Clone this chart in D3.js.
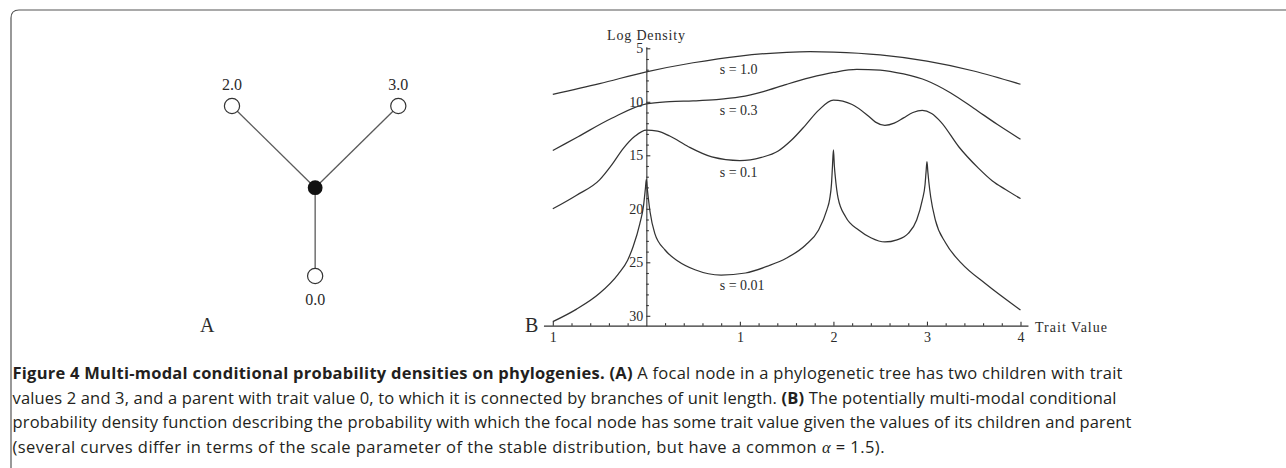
<!DOCTYPE html>
<html>
<head>
<meta charset="utf-8">
<script src="https://cdnjs.cloudflare.com/ajax/libs/d3/7.8.5/d3.min.js"></script>
<style>
html, body { margin: 0; padding: 0; background: #fff; }
svg { display: block; }
text { white-space: pre; }
</style>
</head>
<body>
<svg id="fig" width="1286" height="468"></svg>
<script>
"use strict"

//
// data: panel A (tree with trait values)
//
var treeTraits = ["2.0", "3.0", "0.0"];
var treeNodeX  = [-1, 1, 0];          // layout units
var treeNodeY  = [1, 1, -1.08];

//
// data: panel B (log density curves), [trait value, log density]
//
var seriesNames = ["s = 1.0", "s = 0.3", "s = 0.1", "s = 0.01"];
var curveS100 = [[-1,9.3],[-0.5,8.3],[0,7.2],[0.5,6.35],[1,5.72],[1.5,5.38],[1.75,5.32],[2,5.36],
	[2.5,5.62],[3,6.2],[3.5,7.12],[4,8.36]];
var curveS030 = [[-1,14.55],[-0.73,13.26],[-0.37,11.54],[0,10.2],[0.25,9.99],[0.5,9.92],[0.75,9.8],
	[1,9.55],[1.25,9.05],[1.5,8.37],[1.75,7.75],[2,7.26],[2.25,6.97],[2.5,7.03],[2.75,7.4],[3,8.03],
	[3.25,9.15],[3.5,10.6],[3.75,12.1],[4,13.5]];
var curveS010 = [[-1,20.0],[-0.75,18.75],[-0.5,17.3],[-0.37,15.9],[-0.25,14.4],[-0.12,13.2],[0,12.65],
	[0.12,12.75],[0.25,13.2],[0.45,14.2],[0.7,15.15],[1,15.5],[1.23,15.2],[1.41,14.6],[1.55,13.6],
	[1.7,12.2],[1.84,10.8],[2,9.85],[2.2,10.25],[2.37,11.3],[2.45,11.9],[2.55,12.2],[2.65,12.0],
	[2.75,11.5],[2.85,11.0],[2.95,10.8],[3.05,11.1],[3.15,11.9],[3.34,14.2],[3.55,16.2],[3.7,17.4],
	[3.84,18.2],[4,19.05]];
var curveS001 = [[-1,30.55],[-0.75,29.4],[-0.5,27.9],[-0.3,26.1],[-0.2,24.8],[-0.14,23.5],[-0.07,21.4],
	[-0.03,19.7],[-0.01,18.1],[0,17.25],[0.01,18.1],[0.04,20.3],[0.09,22.3],[0.2,23.85],[0.34,24.9],
	[0.52,25.7],[0.8,26.2],[1.06,26.0],[1.3,25.35],[1.5,24.6],[1.7,23.4],[1.84,22.0],[1.93,20.1],
	[1.96,19.1],[1.98,17.6],[1.99,16.0],[2,14.5],[2.01,16.0],[2.02,17.0],[2.05,19.0],[2.13,20.74],
	[2.27,21.98],[2.4,22.7],[2.55,23.1],[2.68,22.9],[2.8,22.3],[2.89,21.05],[2.95,19.2],[2.98,17.7],
	[2.99,16.6],[3,15.6],[3.01,16.6],[3.02,17.5],[3.04,18.9],[3.09,21.05],[3.2,23.2],[3.37,25.1],
	[3.62,26.96],[4,29.46]];
var curves = [curveS100, curveS030, curveS010, curveS001];
var labelAt = [[0.785, 7.4], [0.785, 11.24], [0.785, 17.03], [0.785, 27.6]];

var xMajorTicks  = [-1, 1, 2, 3, 4];
var xTickLabels  = ["1", "1", "2", "3", "4"];
var yMajorTicks  = [5, 10, 15, 20, 25, 30];
var yTickLabels  = ["5", "10", "15", "20", "25", "30"];
var xExtent = [-1.1, 4.08];
var yExtent = [4.85, 30.92];

//
// caption
//
var captionLines = [
	[["b", "Figure 4 Multi-modal conditional probability densities on phylogenies. (A)"],
	 ["n", " A focal node in a phylogenetic tree has two children with trait"]],
	[["n", "values 2 and 3, and a parent with trait value 0, to which it is connected by branches of unit length. "],
	 ["b", "(B)"], ["n", " The potentially multi-modal conditional"]],
	[["n", "probability density function describing the probability with which the focal node has some trait value given the values of its children and parent"]],
	[["n", "(several curves differ in terms of the scale parameter of the stable distribution, but have a common "],
	 ["i", "\u03b1"], ["n", " = 1.5)."]]
];
var captionWidths = [1110, 1104, 1119, 872];

var serif = "'Liberation Serif', 'DejaVu Serif', serif";
var ink = "#2b2b2b";

var svg = d3.select("#fig");

// frame (top and left edge, rounded corner)
svg.append("path")
	.attr("d", "M11,468 V18 Q11,10 19,10 H1286")
	.attr("fill", "none")
	.attr("stroke", "#555")
	.attr("stroke-width", 1.2)
	;

//
// panel A
//
var tx = d3.scaleLinear().domain([-1, 1]).range([232, 398.3]);
var ty = d3.scaleLinear().domain([0, 1]).range([187.7, 106]);
var gA = svg.append("g");

gA.selectAll("line.branch")
	.data(treeNodeX)
	.enter().append("line")
	.attr("class", "branch")
	.attr("x1", tx(0)).attr("y1", ty(0))
	.attr("x2", function(d) { return tx(d); })
	.attr("y2", function(d, i) { return ty(treeNodeY[i]); })
	.attr("stroke", "#5a5a5a")
	.attr("stroke-width", 1.3)
	;
gA.selectAll("circle.leaf")
	.data(treeNodeX)
	.enter().append("circle")
	.attr("class", "leaf")
	.attr("cx", function(d) { return tx(d); })
	.attr("cy", function(d, i) { return ty(treeNodeY[i]); })
	.attr("r", 7.6)
	.attr("fill", "#fff")
	.attr("stroke", "#333")
	.attr("stroke-width", 1.2)
	;
gA.append("circle")
	.attr("cx", tx(0)).attr("cy", ty(0))
	.attr("r", 7.4)
	.attr("fill", "#111")
	;
gA.selectAll("text.trait")
	.data(treeTraits)
	.enter().append("text")
	.attr("class", "trait")
	.attr("x", function(d, i) { return tx(treeNodeX[i]); })
	.attr("y", function(d, i) { return treeNodeY[i] > 0 ? ty(treeNodeY[i]) - 16 : ty(treeNodeY[i]) + 29; })
	.attr("text-anchor", "middle")
	.attr("font-family", serif)
	.attr("font-size", 16)
	.attr("fill", ink)
	.text(function(d) { return d; })
	;
svg.append("text")
	.attr("x", 200).attr("y", 332)
	.attr("font-family", serif).attr("font-size", 20).attr("fill", ink)
	.text("A");
svg.append("text")
	.attr("x", 525).attr("y", 332)
	.attr("font-family", serif).attr("font-size", 20).attr("fill", ink)
	.text("B");

//
// panel B
//
var x = d3.scaleLinear().domain([-1, 4]).range([552.8, 1020.5]);
var y = d3.scaleLinear().domain([5, 30]).range([48.3, 315.8]);
var xAxisScale = x.copy().domain(xExtent).range(xExtent.map(x));
var yAxisScale = y.copy().domain(yExtent).range(yExtent.map(y));

var gB = svg.append("g");

var xMinor = d3.range(-1, 4.001, 0.2).map(function(v) { return Math.round(v * 10) / 10; })
	.filter(function(v) { return Math.abs(v - Math.round(v)) > 1e-6; });
var yMinor = d3.range(5, 31, 1).filter(function(v) { return v % 5 != 0; });

var gx = gB.append("g")
	.attr("transform", "translate(0," + y(yExtent[1]) + ")")
	;
gx.call(d3.axisBottom(xAxisScale)
	.tickValues(xMajorTicks)
	.tickSizeInner(-4).tickSizeOuter(0).tickPadding(6)
	.tickFormat(function(d, i) { return xTickLabels[i]; }));
gx.append("g").call(d3.axisBottom(xAxisScale)
	.tickValues(xMinor).tickSizeInner(-2.5).tickSizeOuter(0).tickFormat(""))
	.select(".domain").remove();

var gy = gB.append("g")
	.attr("transform", "translate(" + x(0) + ",0)")
	;
gy.call(d3.axisLeft(yAxisScale)
	.tickValues(yMajorTicks)
	.tickSizeInner(-4).tickSizeOuter(0).tickPadding(3)
	.tickFormat(function(d, i) { return yTickLabels[i]; }));
gy.append("g").call(d3.axisLeft(yAxisScale)
	.tickValues(yMinor).tickSizeInner(-2.5).tickSizeOuter(0).tickFormat(""))
	.select(".domain").remove();

gx.attr("font-family", serif).attr("font-size", 14);
gy.attr("font-family", serif).attr("font-size", 14);
gB.selectAll(".domain, .tick line").attr("stroke", "#333").attr("stroke-width", 1.1);
gB.selectAll(".tick text").attr("fill", ink);

gB.append("text")
	.attr("x", 607).attr("y", 40)
	.attr("font-family", serif).attr("font-size", 14).attr("fill", ink)
	.attr("textLength", 78).attr("lengthAdjust", "spacing")
	.text("Log Density");
gB.append("text")
	.attr("x", 1035).attr("y", 331.5)
	.attr("font-family", serif).attr("font-size", 14).attr("fill", ink)
	.attr("textLength", 72).attr("lengthAdjust", "spacing")
	.text("Trait Value");

var line = d3.line()
	.x(function(d) { return x(d[0]); })
	.y(function(d) { return y(d[1]); })
	.curve(d3.curveMonotoneX)
	;
gB.selectAll("path.curve")
	.data(curves)
	.enter().append("path")
	.attr("class", "curve")
	.attr("d", line)
	.attr("fill", "none")
	.attr("stroke", "#333")
	.attr("stroke-width", 1.25)
	;
gB.selectAll("text.series")
	.data(seriesNames)
	.enter().append("text")
	.attr("class", "series")
	.attr("x", function(d, i) { return x(labelAt[i][0]); })
	.attr("y", function(d, i) { return y(labelAt[i][1]); })
	.attr("font-family", serif).attr("font-size", 14).attr("fill", ink)
	.text(function(d) { return d; })
	;

//
// caption: size the font so each line's natural width is close to the target
//
var gC = svg.append("g")
	.attr("font-family", "'Open Sans', 'Noto Sans', sans-serif")
	.attr("fill", "#231f20")
	;
captionLines.forEach(function(parts, li) {
	var t = gC.append("text")
		.attr("x", 12.5)
		.attr("y", 379 + li * 24.5)
		.attr("font-size", 15.5)
		;
	parts.forEach(function(p) {
		var s = t.append("tspan").text(p[1]);
		if (p[0] == "b") s.attr("font-weight", "bold");
		if (p[0] == "i") s.attr("font-style", "italic").attr("font-family", serif);
	});
	var w = t.node().getComputedTextLength();
	var fs = Math.max(13.5, Math.min(16.5, 15.5 * captionWidths[li] / w * 0.995));
	t.attr("font-size", fs);
	t.attr("textLength", captionWidths[li]).attr("lengthAdjust", "spacing");
});
</script>
</body>
</html>
